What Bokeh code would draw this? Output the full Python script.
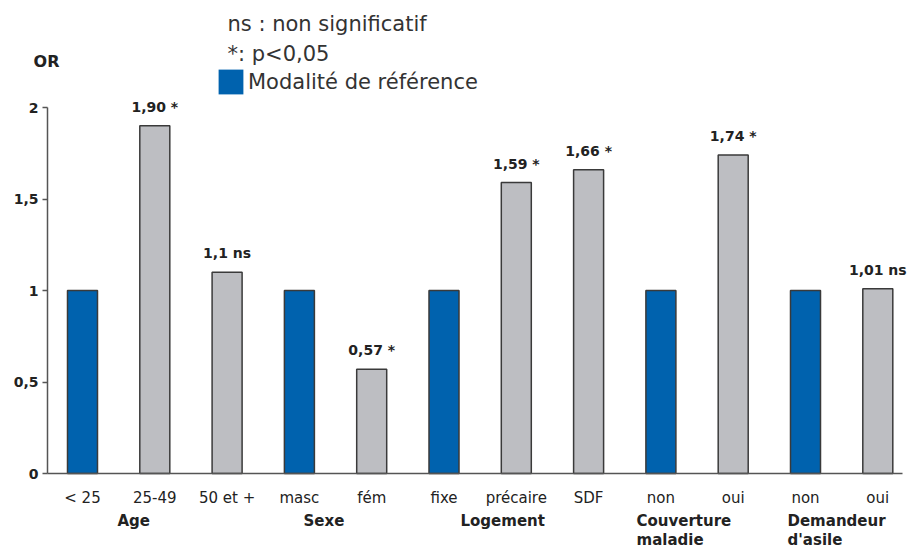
from bokeh.plotting import figure
from bokeh.models import (Range1d, FixedTicker, Label, LabelSet, ColumnDataSource,
                          Legend, LegendItem, CustomJSTickFormatter)
from bokeh.core.properties import value
from bokeh.embed import file_html
from bokeh.resources import INLINE

# ---------------- data ----------------
categories = ["< 25", "25-49", "50 et +", "masc", "fém", "fixe", "précaire", "SDF",
              "non", "oui", "non", "oui"]
odds_ratio = [1.0, 1.90, 1.10, 1.0, 0.57, 1.0, 1.59, 1.66, 1.0, 1.74, 1.0, 1.01]
annotations = ["", "1,90 *", "1,1 ns", "", "0,57 *", "", "1,59 *", "1,66 *", "", "1,74 *", "", "1,01 ns"]
is_reference = [True, False, False, True, False, True, False, False, True, False, True, False]
groups = ["Age", "Sexe", "Logement", "Couverture\nmaladie", "Demandeur\nd'asile"]
y_ticks = [0, 0.5, 1, 1.5, 2]
y_title = "OR"
legend_lines = ["ns : non significatif", "*: p<0,05"]
legend_ref = "Modalité de référence"

# ---------------- style / layout ----------------
BLUE = "#0062ae"
GREY = "#bdbec2"
EDGE = "#3a3a3a"
AXIS = "#555555"
TXT = "#222222"
FONT = "DejaVu Sans"
W, H = 911, 548
X0_PX, X_STEP_PX = 82.0, 72.3      # pixel of first category centre, spacing
Y0_PX, Y_UNIT_PX = 473.0, 183.0    # pixel of OR=0, pixels per OR unit
LABEL_SHIFT = 7                    # compensation for Label baseline placement


def sx(px):
    return (px - X0_PX) / X_STEP_PX


def sy(py):
    return (Y0_PX - py) / Y_UNIT_PX


def sy_label(py):
    return sy(py - LABEL_SHIFT)


x_idx = list(range(len(categories)))
colors = [BLUE if r else GREY for r in is_reference]
src = ColumnDataSource(dict(x=x_idx, value=odds_ratio, label=annotations, color=colors))

p = figure(width=W, height=H,
           x_range=Range1d(sx(0), sx(W)), y_range=Range1d(sy(H), sy(0)),
           output_backend="svg", toolbar_location=None,
           min_border_left=0, min_border_right=0, min_border_top=0, min_border_bottom=0)
p.outline_line_color = None
p.xgrid.visible = False
p.ygrid.visible = False
p.background_fill_color = "white"
p.border_fill_color = "white"

bar_fill = p.vbar(x="x", top="value", width=0.415, fill_color="color", line_color=None,
                  source=src)
p.vbar(x="x", top="value", width=0.415, fill_color=None, line_color=EDGE,
       line_width=1.5, source=src)

labels = LabelSet(x="x", y="value", text="label", source=src, y_offset=14,
                  text_align="center", text_baseline="alphabetic",
                  text_font=value(FONT), text_font_style="bold", text_font_size="14px",
                  text_color=TXT)
p.add_layout(labels)

axis_left = sx(47)
axis_right = sx(902)

# y axis
ya = p.yaxis[0]
ya.fixed_location = axis_left
ya.bounds = (0, 2)
ya.ticker = FixedTicker(ticks=y_ticks)
ya.formatter = CustomJSTickFormatter(code="return tick.toString().replace('.', ',');")
ya.minor_tick_line_color = None
ya.major_tick_in = 0
ya.major_tick_out = 5
ya.major_label_standoff = 4
ya.axis_line_color = AXIS
ya.axis_line_width = 1.5
ya.major_tick_line_color = AXIS
ya.major_tick_line_width = 1.5
ya.major_label_text_font = FONT
ya.major_label_text_font_style = "bold"
ya.major_label_text_font_size = "14px"
ya.major_label_text_color = TXT

# x axis
xa = p.xaxis[0]
xa.fixed_location = 0
xa.bounds = (axis_left, axis_right)
xa.ticker = FixedTicker(ticks=x_idx)
xa.major_label_overrides = {i: c for i, c in zip(x_idx, categories)}
xa.minor_tick_line_color = None
xa.major_tick_line_color = None
xa.major_tick_in = 0
xa.major_tick_out = 0
xa.major_label_standoff = 15
xa.axis_line_color = AXIS
xa.axis_line_width = 1.5
xa.major_label_text_font = FONT
xa.major_label_text_font_size = "15px"
xa.major_label_text_color = TXT

# group labels below the axis (left edge in pixels, baselines in pixels)
group_left_px = [117, 303, 460, 636, 787]
line_base_px = [527, 546]
for g, lx in zip(groups, group_left_px):
    for k, line in enumerate(g.split("\n")):
        p.add_layout(Label(x=sx(lx), y=sy_label(line_base_px[k]), text=line,
                           text_align="left", text_baseline="alphabetic",
                           text_font=FONT, text_font_style="bold",
                           text_font_size="15px", text_color=TXT))

# "OR" title of the y axis
p.add_layout(Label(x=sx(46), y=sy_label(68), text=y_title, text_align="center",
                   text_baseline="alphabetic", text_font=FONT, text_font_style="bold",
                   text_font_size="16px", text_color=TXT))

# legend text lines
for t, base in zip(legend_lines, [30, 60]):
    p.add_layout(Label(x=sx(227), y=sy_label(base), text=t,
                       text_align="left", text_baseline="alphabetic",
                       text_font=FONT, text_font_size="21px", text_color="#333333"))

# legend swatch for the reference modality (uses the blue fill of the first bar)
leg = Legend(items=[LegendItem(label=legend_ref, renderers=[bar_fill], index=0)],
             location=(215, H - 97), glyph_width=31, glyph_height=31, label_height=31,
             label_standoff=2, padding=0, margin=0, spacing=0,
             background_fill_alpha=0, border_line_color=None,
             label_text_font=FONT, label_text_font_size="21px",
             label_text_color="#333333")
p.add_layout(leg)

open("out.html", "w").write(file_html(p, INLINE))
